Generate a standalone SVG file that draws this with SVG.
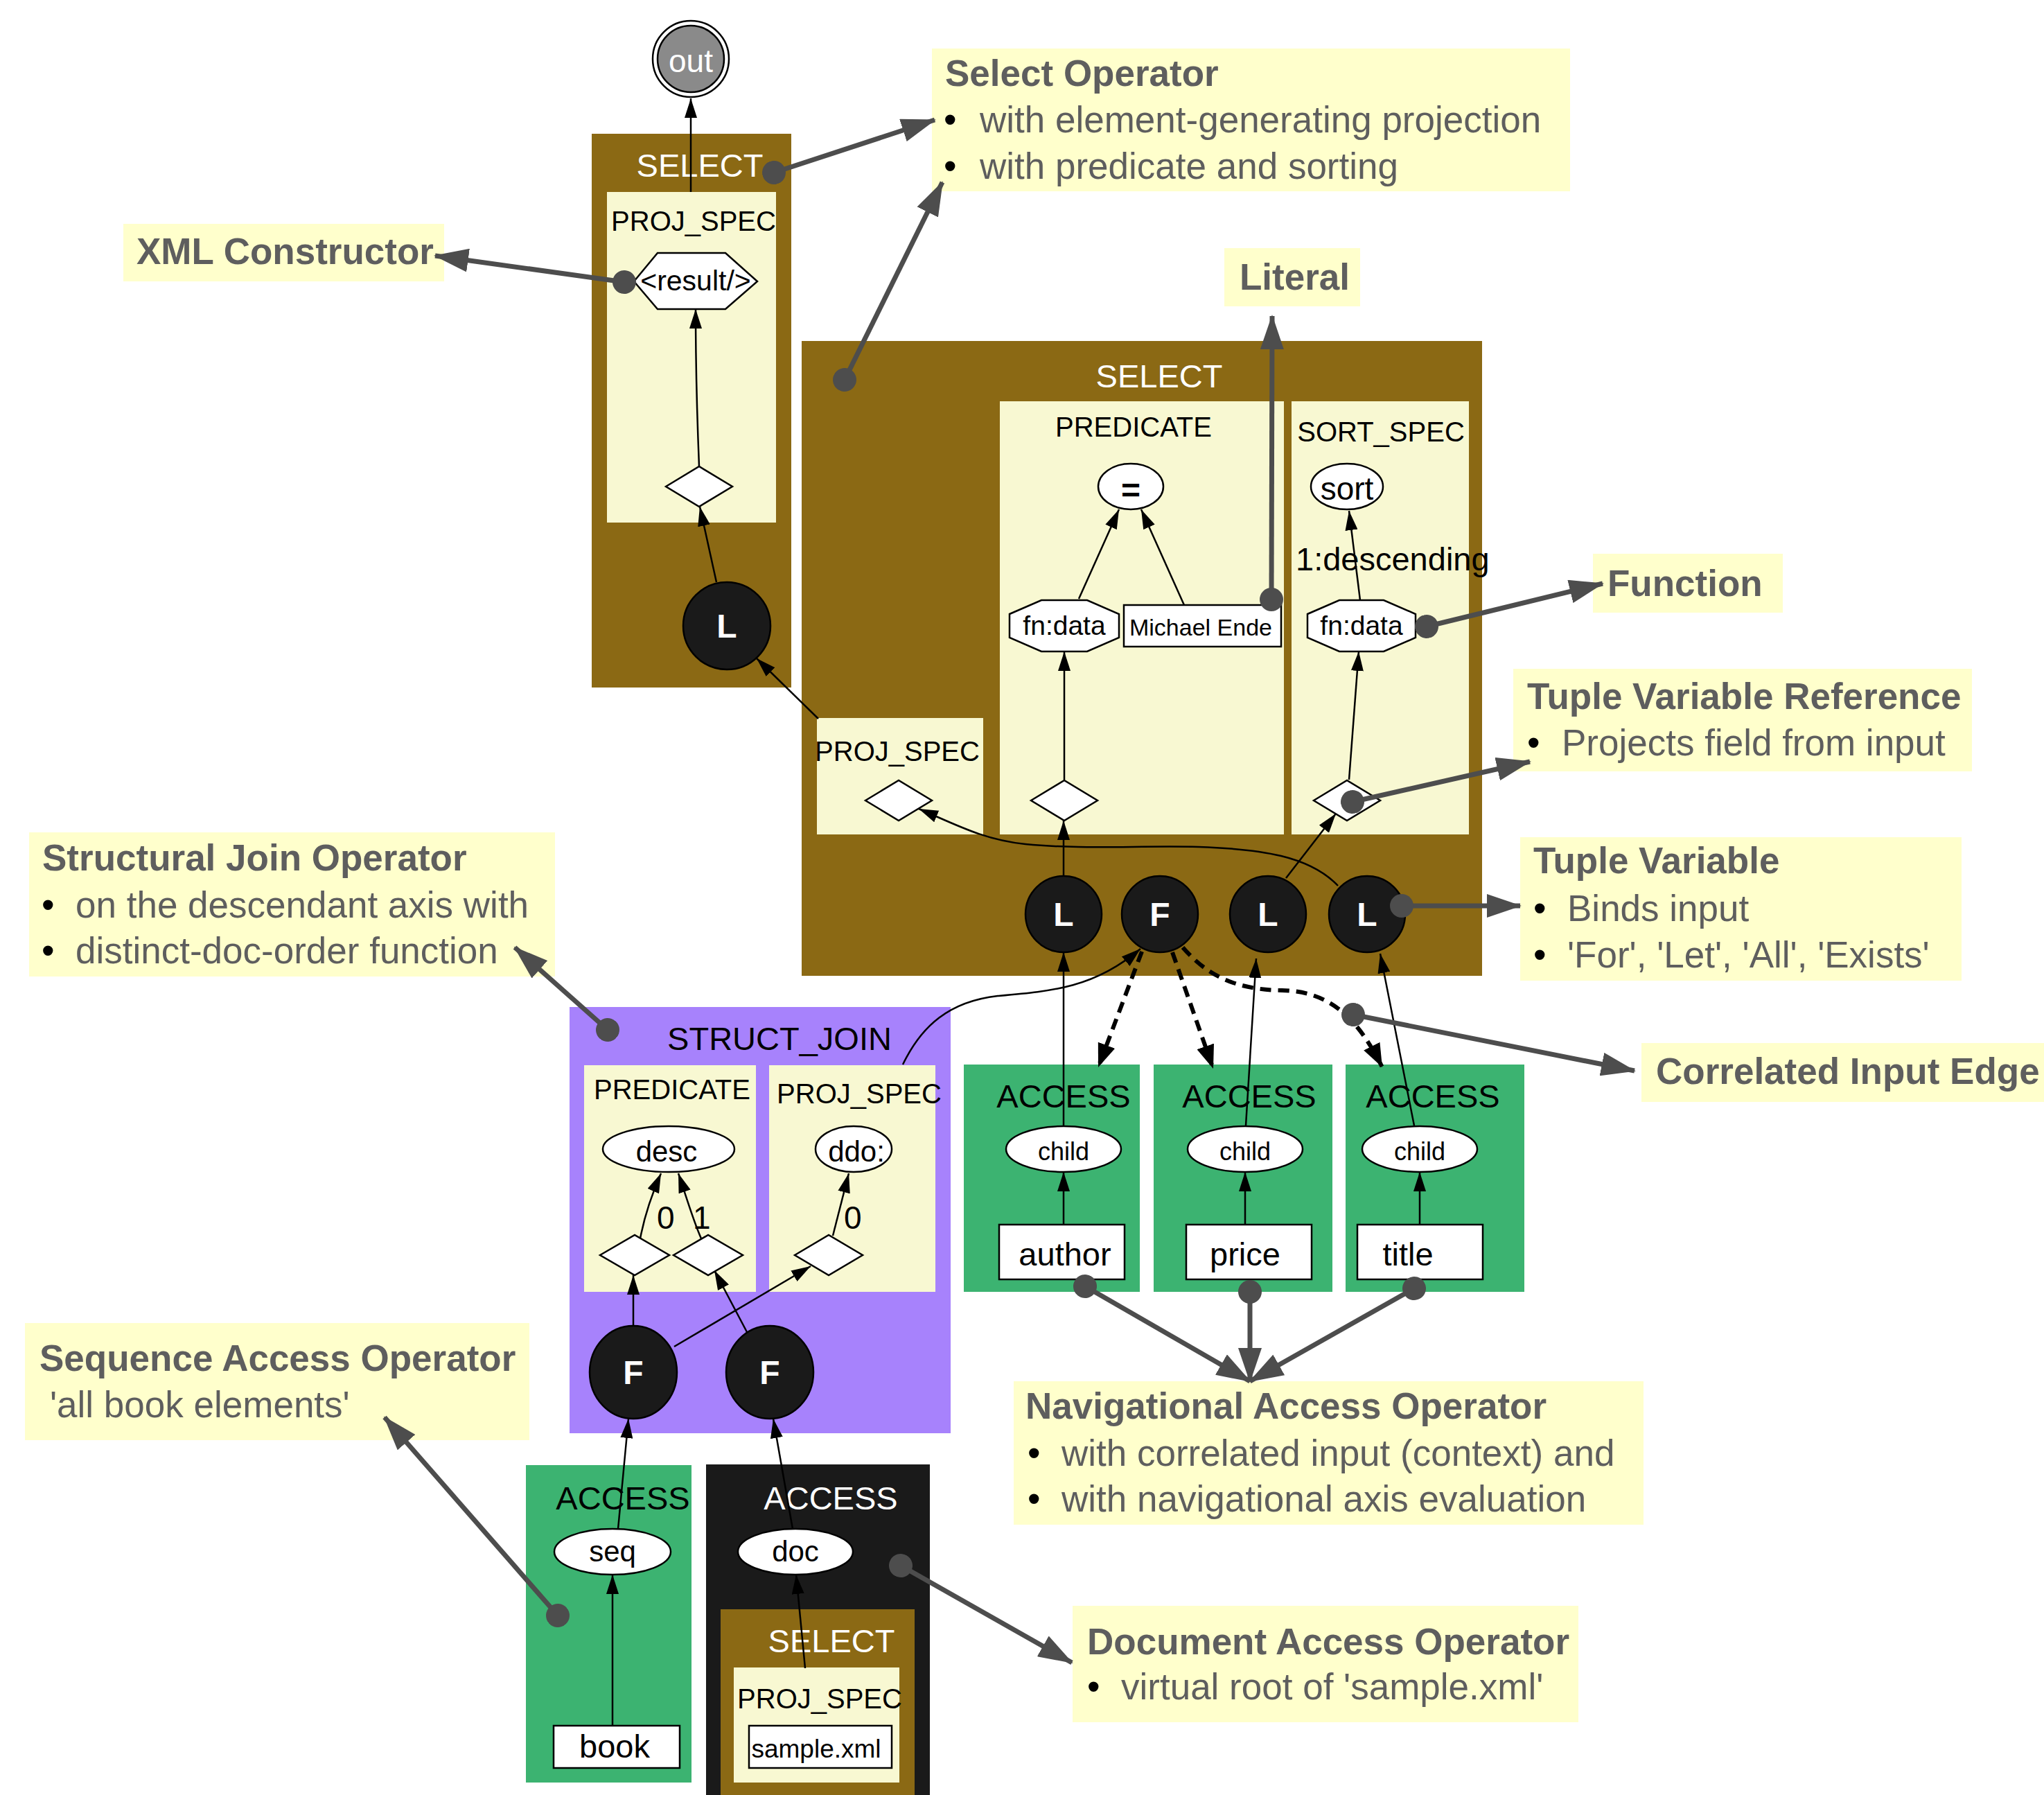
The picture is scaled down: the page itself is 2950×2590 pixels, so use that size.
<svg xmlns="http://www.w3.org/2000/svg" width="2950" height="2590" viewBox="0 0 2950 2590">
  <defs>
    <style>
      text { font-family: "Liberation Sans", Arial, Helvetica, sans-serif; }
      .c-sel { fill: #8b6914; }
      .c-panel { fill: #f8f8d2; }
      .c-acc { fill: #3cb371; }
      .c-sj { fill: #a782fc; }
      .c-doc { fill: #1a1a1a; }
      .cl { font-size: 47px; text-anchor: middle; fill: #000; }
      .cl-w { fill: #fff; }
      .sub { font-size: 40px; text-anchor: middle; fill: #000; }
      .shape { fill: #fff; stroke: #000; stroke-width: 2.5; }
      .var { fill: #1a1a1a; stroke: #000; stroke-width: 2.5; }
      .var-t { fill: #fff; font-weight: bold; font-size: 48px; text-anchor: middle; }
      .nl { text-anchor: middle; fill: #000; }
      .edge { fill: none; stroke: #000; stroke-width: 2.5; marker-end: url(#arr); }
      .dash { fill: none; stroke: #000; stroke-width: 6; stroke-dasharray: 16 10; marker-end: url(#arr-d); }
      .elbl { font-size: 46px; fill: #000; }
      .note { fill: #ffffcc; }
      .nt-h { font-size: 53px; font-weight: bold; fill: #5e5e5e; }
      .nt-x { font-size: 53px; fill: #5e5e5e; }
      .nt-b { font-size: 53px; fill: #000; }
      .ann { fill: none; stroke: #4d4d4d; stroke-width: 7; marker-start: url(#dot); marker-end: url(#ann-arr); }
    </style>
    <marker id="arr" viewBox="0 0 28 18" refX="28" refY="9" markerWidth="28" markerHeight="18" markerUnits="userSpaceOnUse" orient="auto">
      <path d="M0,0 L28,9 L0,18 z" fill="#000"/>
    </marker>
    <marker id="arr-d" viewBox="0 0 34 26" refX="34" refY="13" markerWidth="34" markerHeight="26" markerUnits="userSpaceOnUse" orient="auto">
      <path d="M0,0 L34,13 L0,26 z" fill="#000"/>
    </marker>
    <marker id="ann-arr" viewBox="0 0 50 34" refX="48" refY="17" markerWidth="50" markerHeight="34" markerUnits="userSpaceOnUse" orient="auto">
      <path d="M0,0 L50,17 L0,34 z" fill="#4d4d4d"/>
    </marker>
    <marker id="dot" viewBox="-17 -17 34 34" refX="0" refY="0" markerWidth="34" markerHeight="34" markerUnits="userSpaceOnUse" orient="auto">
      <circle cx="0" cy="0" r="17" fill="#4d4d4d"/>
    </marker>
  </defs>

  <rect x="0" y="0" width="2950" height="2590" fill="#fff"/>

  <!-- clusters -->
  <g id="cluster-select-top">
    <rect class="c-sel" x="854" y="193" width="288" height="799"/>
    <text class="cl cl-w" x="1010" y="255">SELECT</text>
    <rect class="c-panel" x="876" y="277" width="244" height="477"/>
    <text class="sub" x="1001" y="333">PROJ_SPEC</text>
  </g>
  <g id="cluster-select-main">
    <rect class="c-sel" x="1157" y="492" width="982" height="916"/>
    <text class="cl cl-w" x="1673" y="559">SELECT</text>
    <rect class="c-panel" x="1443" y="579" width="410" height="625"/>
    <text class="sub" x="1636" y="630">PREDICATE</text>
    <rect class="c-panel" x="1864" y="579" width="256" height="625"/>
    <text class="sub" x="1993" y="637">SORT_SPEC</text>
    <rect class="c-panel" x="1179" y="1036" width="240" height="168"/>
    <text class="sub" x="1295" y="1098">PROJ_SPEC</text>
  </g>
  <g id="cluster-struct-join">
    <rect class="c-sj" x="822" y="1453" width="550" height="615"/>
    <text class="cl" x="1125" y="1515">STRUCT_JOIN</text>
    <rect class="c-panel" x="843" y="1537" width="248" height="327"/>
    <text class="sub" x="970" y="1586">PREDICATE</text>
    <rect class="c-panel" x="1110" y="1537" width="240" height="327"/>
    <text class="sub" x="1240" y="1592">PROJ_SPEC</text>
  </g>
  <g id="cluster-access-author">
    <rect class="c-acc" x="1391" y="1536" width="254" height="328"/>
    <text class="cl" x="1535" y="1598">ACCESS</text>
  </g>
  <g id="cluster-access-price">
    <rect class="c-acc" x="1665" y="1536" width="258" height="328"/>
    <text class="cl" x="1803" y="1598">ACCESS</text>
  </g>
  <g id="cluster-access-title">
    <rect class="c-acc" x="1942" y="1536" width="258" height="328"/>
    <text class="cl" x="2068" y="1598">ACCESS</text>
  </g>
  <g id="cluster-access-seq">
    <rect class="c-acc" x="759" y="2114" width="239" height="458"/>
    <text class="cl" x="899" y="2178">ACCESS</text>
  </g>
  <g id="cluster-access-doc">
    <rect class="c-doc" x="1019" y="2113" width="323" height="477"/>
    <text class="cl cl-w" x="1199" y="2178">ACCESS</text>
    <rect class="c-sel" x="1040" y="2322" width="280" height="268"/>
    <text class="cl cl-w" x="1200" y="2384">SELECT</text>
    <rect class="c-panel" x="1059" y="2406" width="239" height="166"/>
    <text class="sub" x="1183" y="2465">PROJ_SPEC</text>
  </g>

  <!-- plan edges -->
  <g id="edges">
    <path class="edge" d="M997,277 L997,142"/>
    <path class="edge" d="M1009,673 C1006,600 1004,520 1004,446"/>
    <path class="edge" d="M1034,840 L1010,731"/>
    <path class="edge" d="M1181,1037 L1092,950"/>
    <path class="edge" d="M1931,1278 C1890,1235 1820,1225 1730,1222 C1640,1220 1560,1226 1480,1218 C1420,1212 1380,1190 1326,1167"/>
    <path class="edge" d="M1535,1264 L1535,1184"/>
    <path class="edge" d="M1536,1125 L1536,940"/>
    <path class="edge" d="M1557,864 L1615,735"/>
    <path class="edge" d="M1709,873 L1647,735"/>
    <path class="edge" d="M1963,866 L1947,737"/>
    <text class="elbl" x="1870" y="823" style="font-size:47px">1:descending</text>
    <path class="edge" d="M1856,1267 L1928,1174"/>
    <path class="edge" d="M1947,1125 L1961,940"/>
    <path class="edge" d="M1303,1536 C1330,1480 1370,1445 1440,1437 C1520,1430 1580,1425 1646,1369"/>
    <path class="dash" d="M1648,1373 L1585,1540"/>
    <path class="dash" d="M1692,1374 L1751,1542"/>
    <path class="dash" d="M1707,1367 C1740,1405 1780,1428 1850,1429 C1920,1430 1960,1470 1995,1540"/>
    <path class="edge" d="M1535,1625 L1535,1374"/>
    <path class="edge" d="M1798,1624 L1813,1383"/>
    <path class="edge" d="M2041,1624 L1992,1376"/>
    <path class="edge" d="M1535,1767 L1535,1691"/>
    <path class="edge" d="M1797,1767 L1797,1691"/>
    <path class="edge" d="M2049,1767 L2049,1691"/>
    <path class="edge" d="M924,1787 C930,1755 940,1725 954,1693"/>
    <text class="elbl" x="948" y="1773">0</text>
    <path class="edge" d="M1012,1787 C1000,1760 990,1725 979,1693"/>
    <text class="elbl" x="1000" y="1773">1</text>
    <path class="edge" d="M1202,1783 L1225,1693"/>
    <text class="elbl" x="1218" y="1773">0</text>
    <path class="edge" d="M914,1913 L914,1840"/>
    <path class="edge" d="M973,1943 L1170,1827"/>
    <path class="edge" d="M1078,1922 L1031,1833"/>
    <path class="edge" d="M892,2206 L907,2047"/>
    <path class="edge" d="M1144,2206 L1116,2047"/>
    <path class="edge" d="M884,2490 L884,2272"/>
    <path class="edge" d="M1162,2407 L1149,2272"/>
  </g>

  <!-- plan nodes -->
  <g id="node-out">
    <circle cx="997" cy="85" r="55" fill="#fff" stroke="#000" stroke-width="2.5"/>
    <circle cx="997" cy="85" r="48" fill="#8a8a8a" stroke="#000" stroke-width="2.5"/>
    <text class="nl" x="997" y="104" font-size="46" style="fill:#fff">out</text>
  </g>
  <g id="node-result">
    <polygon class="shape" points="915,406 949,365 1047,365 1093,406 1047,446 949,446"/>
    <text class="nl" x="1004" y="419" font-size="41">&lt;result/&gt;</text>
  </g>
  <g id="node-ref-top">
    <polygon class="shape" points="961,702 1009,673 1057,702 1009,731"/>
  </g>
  <g id="node-let-top">
    <circle class="var" cx="1049" cy="903" r="63"/>
    <text class="var-t" x="1049" y="920">L</text>
  </g>
  <g id="node-eq">
    <ellipse class="shape" cx="1632" cy="702" rx="47" ry="33"/>
    <text class="nl" x="1632" y="724" font-size="48" font-weight="bold">=</text>
  </g>
  <g id="node-sort">
    <ellipse class="shape" cx="1944" cy="702" rx="52" ry="33"/>
    <text class="nl" x="1944" y="721" font-size="46">sort</text>
  </g>
  <g id="node-fndata-pred">
    <polygon class="shape" points="1457,886 1503,866 1569,866 1615,886 1615,920 1569,940 1503,940 1457,920"/>
    <text class="nl" x="1536" y="916" font-size="39">fn:data</text>
  </g>
  <g id="node-literal">
    <rect class="shape" x="1622" y="873" width="227" height="60"/>
    <text class="nl" x="1733" y="917" font-size="34">Michael Ende</text>
  </g>
  <g id="node-fndata-sort">
    <polygon class="shape" points="1887,886 1933,866 1997,866 2043,886 2043,920 1997,940 1933,940 1887,920"/>
    <text class="nl" x="1965" y="916" font-size="39">fn:data</text>
  </g>
  <g id="node-ref-proj">
    <polygon class="shape" points="1249,1155 1297,1126 1345,1155 1297,1184"/>
  </g>
  <g id="node-ref-pred">
    <polygon class="shape" points="1488,1155 1536,1126 1584,1155 1536,1184"/>
  </g>
  <g id="node-ref-sort">
    <polygon class="shape" points="1896,1155 1944,1126 1992,1155 1944,1184"/>
  </g>
  <g id="node-let-author">
    <circle class="var" cx="1535" cy="1319" r="55"/>
    <text class="var-t" x="1535" y="1336">L</text>
  </g>
  <g id="node-for-main">
    <circle class="var" cx="1674" cy="1319" r="55"/>
    <text class="var-t" x="1674" y="1336">F</text>
  </g>
  <g id="node-let-price">
    <circle class="var" cx="1830" cy="1319" r="55"/>
    <text class="var-t" x="1830" y="1336">L</text>
  </g>
  <g id="node-let-title">
    <circle class="var" cx="1973" cy="1319" r="55"/>
    <text class="var-t" x="1973" y="1336">L</text>
  </g>
  <g id="node-child-author">
    <ellipse class="shape" cx="1535" cy="1658" rx="83" ry="33"/>
    <text class="nl" x="1535" y="1674" font-size="36">child</text>
  </g>
  <g id="node-child-price">
    <ellipse class="shape" cx="1797" cy="1658" rx="83" ry="33"/>
    <text class="nl" x="1797" y="1674" font-size="36">child</text>
  </g>
  <g id="node-child-title">
    <ellipse class="shape" cx="2049" cy="1658" rx="83" ry="33"/>
    <text class="nl" x="2049" y="1674" font-size="36">child</text>
  </g>
  <g id="node-name-author">
    <rect class="shape" x="1442" y="1767" width="181" height="79"/>
    <text class="nl" x="1537" y="1826" font-size="47">author</text>
  </g>
  <g id="node-name-price">
    <rect class="shape" x="1712" y="1767" width="181" height="79"/>
    <text class="nl" x="1797" y="1826" font-size="47">price</text>
  </g>
  <g id="node-name-title">
    <rect class="shape" x="1959" y="1767" width="181" height="79"/>
    <text class="nl" x="2032" y="1826" font-size="47">title</text>
  </g>
  <g id="node-desc">
    <ellipse class="shape" cx="965" cy="1658" rx="95" ry="33"/>
    <text class="nl" x="962" y="1676" font-size="42">desc</text>
  </g>
  <g id="node-ddo">
    <ellipse class="shape" cx="1232" cy="1658" rx="55" ry="33"/>
    <text class="nl" x="1236" y="1676" font-size="42">ddo:</text>
  </g>
  <g id="node-ref-sj-0">
    <polygon class="shape" points="866,1811 916,1782 966,1811 916,1840"/>
  </g>
  <g id="node-ref-sj-1">
    <polygon class="shape" points="972,1811 1022,1782 1072,1811 1022,1840"/>
  </g>
  <g id="node-ref-sj-2">
    <polygon class="shape" points="1147,1811 1196,1782 1245,1811 1196,1840"/>
  </g>
  <g id="node-for-seq">
    <ellipse class="var" cx="914" cy="1980" rx="63" ry="67"/>
    <text class="var-t" x="914" y="1997">F</text>
  </g>
  <g id="node-for-doc">
    <ellipse class="var" cx="1111" cy="1980" rx="63" ry="67"/>
    <text class="var-t" x="1111" y="1997">F</text>
  </g>
  <g id="node-seq">
    <ellipse class="shape" cx="884" cy="2239" rx="84" ry="33"/>
    <text class="nl" x="884" y="2253" font-size="42">seq</text>
  </g>
  <g id="node-doc">
    <ellipse class="shape" cx="1148" cy="2239" rx="83" ry="33"/>
    <text class="nl" x="1148" y="2253" font-size="42">doc</text>
  </g>
  <g id="node-book">
    <rect class="shape" x="799" y="2490" width="182" height="61"/>
    <text class="nl" x="887" y="2536" font-size="47">book</text>
  </g>
  <g id="node-sample">
    <rect class="shape" x="1081" y="2490" width="206" height="61"/>
    <text class="nl" x="1178" y="2536" font-size="37">sample.xml</text>
  </g>

  <!-- explanatory notes -->
  <g id="note-select">
    <rect class="note" x="1345" y="70" width="921" height="206"/>
    <text class="nt-h" x="1364" y="124">Select Operator</text>
    <text class="nt-b" x="1362" y="191">•</text>
    <text class="nt-x" x="1414" y="191">with element-generating projection</text>
    <text class="nt-b" x="1362" y="258">•</text>
    <text class="nt-x" x="1414" y="258">with predicate and sorting</text>
  </g>
  <g id="note-xml">
    <rect class="note" x="178" y="323" width="463" height="83"/>
    <text class="nt-h" x="197" y="381">XML Constructor</text>
  </g>
  <g id="note-literal">
    <rect class="note" x="1767" y="358" width="196" height="84"/>
    <text class="nt-h" x="1789" y="418">Literal</text>
  </g>
  <g id="note-function">
    <rect class="note" x="2299" y="799" width="274" height="85"/>
    <text class="nt-h" x="2320" y="860">Function</text>
  </g>
  <g id="note-tvref">
    <rect class="note" x="2184" y="965" width="662" height="148"/>
    <text class="nt-h" x="2204" y="1023">Tuple Variable Reference</text>
    <text class="nt-b" x="2204" y="1090">•</text>
    <text class="nt-x" x="2254" y="1090">Projects field from input</text>
  </g>
  <g id="note-tv">
    <rect class="note" x="2194" y="1208" width="637" height="207"/>
    <text class="nt-h" x="2213" y="1260">Tuple Variable</text>
    <text class="nt-b" x="2213" y="1329">•</text>
    <text class="nt-x" x="2262" y="1329">Binds input</text>
    <text class="nt-b" x="2213" y="1396">•</text>
    <text class="nt-x" x="2262" y="1396">'For', 'Let', 'All', 'Exists'</text>
  </g>
  <g id="note-correlated">
    <rect class="note" x="2369" y="1505" width="581" height="85"/>
    <text class="nt-h" x="2390" y="1564">Correlated Input Edge</text>
  </g>
  <g id="note-structjoin">
    <rect class="note" x="42" y="1201" width="759" height="208"/>
    <text class="nt-h" x="61" y="1256">Structural Join Operator</text>
    <text class="nt-b" x="60" y="1324">•</text>
    <text class="nt-x" x="109" y="1324">on the descendant axis with</text>
    <text class="nt-b" x="60" y="1390">•</text>
    <text class="nt-x" x="109" y="1390">distinct-doc-order function</text>
  </g>
  <g id="note-seqaccess">
    <rect class="note" x="36" y="1909" width="728" height="169"/>
    <text class="nt-h" x="57" y="1978">Sequence Access Operator</text>
    <text class="nt-x" x="72" y="2045">'all book elements'</text>
  </g>
  <g id="note-navaccess">
    <rect class="note" x="1463" y="1993" width="909" height="207"/>
    <text class="nt-h" x="1480" y="2047">Navigational Access Operator</text>
    <text class="nt-b" x="1483" y="2115">•</text>
    <text class="nt-x" x="1532" y="2115">with correlated input (context) and</text>
    <text class="nt-b" x="1483" y="2181">•</text>
    <text class="nt-x" x="1532" y="2181">with navigational axis evaluation</text>
  </g>
  <g id="note-docaccess">
    <rect class="note" x="1548" y="2317" width="730" height="168"/>
    <text class="nt-h" x="1569" y="2387">Document Access Operator</text>
    <text class="nt-b" x="1569" y="2452">•</text>
    <text class="nt-x" x="1618" y="2452">virtual root of 'sample.xml'</text>
  </g>

  <!-- note pointers -->
  <g id="note-pointers">
    <path class="ann" d="M1117,249 L1349,173"/>
    <path class="ann" d="M1219,548 L1360,263"/>
    <path class="ann" d="M901,407 L628,369"/>
    <path class="ann" d="M1835,865 L1836,456"/>
    <path class="ann" d="M2059,904 L2313,842"/>
    <path class="ann" d="M1952,1157 L2208,1099"/>
    <path class="ann" d="M2023,1307 L2194,1307"/>
    <path class="ann" d="M1953,1464 L2359,1545"/>
    <path class="ann" d="M877,1486 L743,1367"/>
    <path class="ann" d="M1566,1856 L1804,1993"/>
    <path class="ann" d="M1804,1864 L1804,1993"/>
    <path class="ann" d="M2041,1859 L1804,1993"/>
    <path class="ann" d="M805,2331 L555,2045"/>
    <path class="ann" d="M1300,2259 L1547,2399"/>
  </g>
</svg>
